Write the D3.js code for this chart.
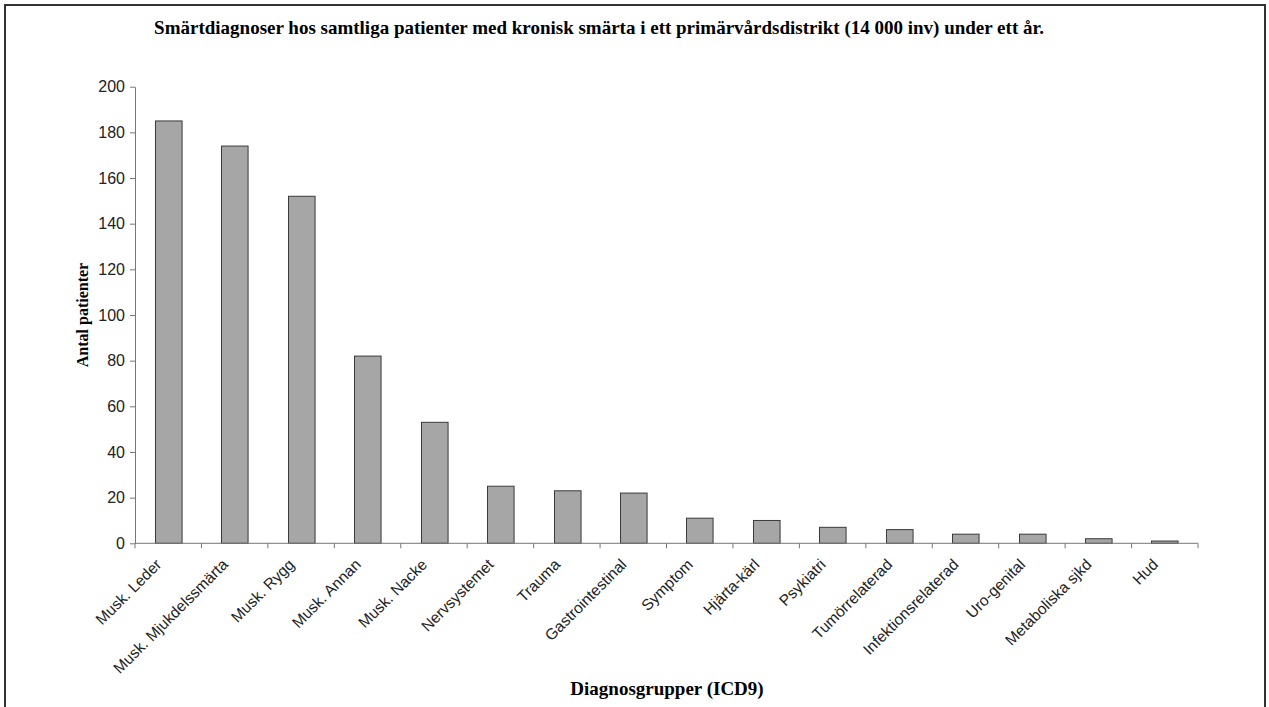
<!DOCTYPE html>
<html>
<head>
<meta charset="utf-8">
<script src="https://cdn.jsdelivr.net/npm/d3@7/dist/d3.min.js"></script>
<style>
  html, body { margin: 0; padding: 0; background: #fff; }
  svg { display: block; }
</style>
</head>
<body>
<svg id="chart" width="1269" height="707"></svg>
<script>
// Diagnosis groups (ICD9) and number of patients in each group
const categories = [
  "Musk. Leder", "Musk. Mjukdelssmärta", "Musk. Rygg", "Musk. Annan", "Musk. Nacke",
  "Nervsystemet", "Trauma", "Gastrointestinal", "Symptom", "Hjärta-kärl",
  "Psykiatri", "Tumörrelaterad", "Infektionsrelaterad", "Uro-genital",
  "Metaboliska sjkd", "Hud"
];
const patients = [185, 174, 152, 82, 53, 25, 23, 22, 11, 10, 7, 6, 4, 4, 2, 1];
const yTicks = [0, 20, 40, 60, 80, 100, 120, 140, 160, 180, 200];

const titleText = "Smärtdiagnoser hos samtliga patienter med kronisk smärta i ett primärvårdsdistrikt (14 000 inv) under ett år.";
const xTitle = "Diagnosgrupper (ICD9)";
const yTitle = "Antal patienter";

const svg = d3.select("#chart");
const plot = { left: 135, right: 1198, top: 86.7, bottom: 543.3 };
const sans = "'Liberation Sans', Arial, sans-serif";
const serif = "'Liberation Serif', 'Times New Roman', serif";

// outer frame
svg.append("rect")
  .attr("x", 5).attr("y", 5)
  .attr("width", 1260).attr("height", 720)
  .attr("fill", "none").attr("stroke", "#333").attr("stroke-width", 2);

const x = d3.scaleBand()
  .domain(categories)
  .range([plot.left, plot.right])
  .paddingInner(0.6)
  .paddingOuter(0.3);

const band = d3.scaleBand().domain(categories).range([plot.left, plot.right]);

const y = d3.scaleLinear().domain([0, 200]).range([plot.bottom, plot.top]);

// bars
svg.append("g").selectAll("rect")
  .data(categories)
  .join("rect")
  .attr("x", (d) => Math.round(x(d)) + 0.5)
  .attr("y", (d, i) => y(patients[i]))
  .attr("width", x.bandwidth())
  .attr("height", (d, i) => plot.bottom - y(patients[i]))
  .attr("fill", "#a6a6a6")
  .attr("stroke", "#3a3a3a")
  .attr("stroke-width", 1);

// y axis
const yAxis = svg.append("g")
  .attr("transform", `translate(${plot.left},0)`)
  .call(d3.axisLeft(y).tickValues(yTicks).tickSize(5).tickPadding(5).tickSizeOuter(0));
yAxis.select(".domain").attr("stroke", "#777");
yAxis.selectAll(".tick line").attr("stroke", "#777");
yAxis.selectAll("text")
  .attr("font-family", sans)
  .attr("font-size", 16)
  .attr("fill", "#222");

// x axis: ticks on band boundaries
const xAxisG = svg.append("g").attr("transform", `translate(0,${plot.bottom})`);
xAxisG.append("line")
  .attr("x1", plot.left).attr("x2", plot.right)
  .attr("y1", 0).attr("y2", 0)
  .attr("stroke", "#777");
const boundaries = categories.map((d) => band(d)).concat([plot.right]);
xAxisG.selectAll("line.tk")
  .data(boundaries)
  .join("line")
  .attr("class", "tk")
  .attr("x1", (d) => d).attr("x2", (d) => d)
  .attr("y1", 0).attr("y2", 5)
  .attr("stroke", "#777");

// rotated category labels
xAxisG.selectAll("text.cat")
  .data(categories)
  .join("text")
  .attr("class", "cat")
  .attr("transform", (d) => `translate(${band(d) + band.bandwidth() / 2 - 14},${14}) rotate(-45)`)
  .attr("text-anchor", "end")
  .attr("dy", "0.75em")
  .attr("font-family", sans)
  .attr("font-size", 15.5)
  .attr("fill", "#222")
  .text((d) => d);

// titles
svg.append("text")
  .attr("x", 599).attr("y", 34)
  .attr("text-anchor", "middle")
  .attr("font-family", serif)
  .attr("font-weight", "bold")
  .attr("font-size", 19)
  .attr("fill", "#000")
  .text(titleText);

svg.append("text")
  .attr("x", 667).attr("y", 695)
  .attr("text-anchor", "middle")
  .attr("font-family", serif)
  .attr("font-weight", "bold")
  .attr("font-size", 19)
  .attr("fill", "#000")
  .text(xTitle);

svg.append("text")
  .attr("transform", "translate(88,315) rotate(-90)")
  .attr("text-anchor", "middle")
  .attr("font-family", serif)
  .attr("font-weight", "bold")
  .attr("font-size", 16)
  .attr("fill", "#000")
  .text(yTitle);
</script>
</body>
</html>
